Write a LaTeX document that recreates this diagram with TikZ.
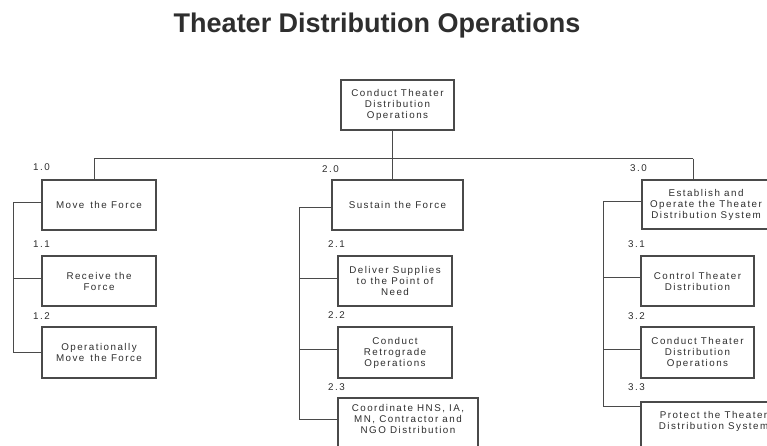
\documentclass[tikz,border=0pt]{standalone}
\usepackage{fontspec}
\setmainfont{Liberation Sans}
\newfontfamily\boxfont[LetterSpace=15]{Liberation Sans}
\newfontfamily\titlefont{Liberation Sans}
\definecolor{ink}{HTML}{2E2E2E}
\definecolor{wire}{HTML}{4A4A4A}
\begin{document}
\begin{tikzpicture}[x=1pt,y=-1pt,
  wbox/.style={draw=wire, line width=1.2pt, rectangle, align=center, inner sep=0pt,
    text=ink, font=\boxfont\fontsize{9.8}{11}\selectfont, minimum height=50pt},
  num/.style={anchor=west, inner sep=0pt, text=ink, font=\boxfont\fontsize{9.8}{11}\selectfont},
  link/.style={draw=wire, line width=1pt}]
\useasboundingbox (0,0) rectangle (767,445);
\clip (0,0) rectangle (767,445);
\fill[white] (0,0) rectangle (767,445);

\node[text=ink, font=\titlefont\bfseries\fontsize{27}{30}\selectfont, inner sep=0pt, anchor=base] (title) at (377,32) {Theater Distribution Operations};

\node[wbox, minimum width=113pt] (top) at (397.5,105) {Conduct Theater\\Distribution\\Operations};

\node[wbox, minimum width=114pt] (b10) at (99,205) {Move\, the Force};
\node[wbox, minimum width=114pt] (b11) at (99,281) {Receive the\\Force};
\node[wbox, minimum width=114pt, minimum height=51pt] (b12) at (99,352.5) {Operationally\\Move\, the Force};

\node[wbox, minimum width=131pt] (b20) at (397.5,205) {Sustain the Force};
\node[wbox, minimum width=114pt] (b21) at (395,281) {Deliver Supplies\\to the Point of\\Need};
\node[wbox, minimum width=114pt, minimum height=51pt] (b22) at (395,352.5) {Conduct\\Retrograde\\Operations};
\node[wbox, minimum width=140pt, text depth=8pt] (b23) at (408,423) {Coordinate HNS, IA,\\MN, Contractor and\\NGO Distribution};

\node[wbox, minimum width=128pt, minimum height=49pt] (b30) at (706,204.5) {Establish and\\Operate the Theater\\Distribution System};
\node[wbox, minimum width=113pt] (b31) at (697.5,281) {Control Theater\\Distribution};
\node[wbox, minimum width=113pt, minimum height=51pt] (b32) at (697.5,352.5) {Conduct Theater\\Distribution\\Operations};
\node[wbox, minimum width=145pt, text depth=13pt] (b33) at (713.5,427) {Protect the Theater\\Distribution System};

\node[num] (n10) at (33,167) {1.0};
\node[num] (n11) at (33,244) {1.1};
\node[num] (n12) at (33,316) {1.2};
\node[num] (n20) at (322,169) {2.0};
\node[num] (n21) at (328,244) {2.1};
\node[num] (n22) at (328,315) {2.2};
\node[num] (n23) at (328,387) {2.3};
\node[num] (n30) at (630,168) {3.0};
\node[num] (n31) at (628,244) {3.1};
\node[num] (n32) at (628,316) {3.2};
\node[num] (n33) at (628,387) {3.3};

% bus
\coordinate (bus) at (392.5,158.5);
\coordinate (busL) at (94,158.5);
\coordinate (busR) at (693,158.5);
\draw[link] (top.south -| bus) -- (bus);
\draw[link] (busL) -- (busR);
\draw[link] (busL) -- (busL |- b10.north);
\draw[link] (bus) -- (bus |- b20.north);
\draw[link] (busR) -- (busR |- b30.north);

% group 1
\coordinate (s1) at (13,0);
\draw[link] ([yshift=3pt]b10.west) -- ([yshift=3pt]b10.west -| s1) -- (b12.west -| s1) -- (b12.west);
\draw[link] ([yshift=3pt]b11.west) -- ([yshift=3pt]b11.west -| s1);

% group 2
\coordinate (s2) at (299,0);
\draw[link] ([yshift=-2pt]b20.west) -- ([yshift=-2pt]b20.west -| s2) -- ([yshift=4pt]b23.west -| s2) -- ([yshift=4pt]b23.west);
\draw[link] ([yshift=3pt]b21.west) -- ([yshift=3pt]b21.west -| s2);
\draw[link] ([yshift=3.5pt]b22.west) -- ([yshift=3.5pt]b22.west -| s2);

% group 3
\coordinate (s3) at (603,0);
\draw[link] ([yshift=3.5pt]b30.west) -- ([yshift=3.5pt]b30.west -| s3) -- ([yshift=-5pt]b33.north west -| s3) -- ([yshift=-5pt]b33.north west);
\draw[link] ([yshift=4pt]b31.west) -- ([yshift=4pt]b31.west -| s3);
\draw[link] ([yshift=3.5pt]b32.west) -- ([yshift=3.5pt]b32.west -| s3);
\end{tikzpicture}
\end{document}
